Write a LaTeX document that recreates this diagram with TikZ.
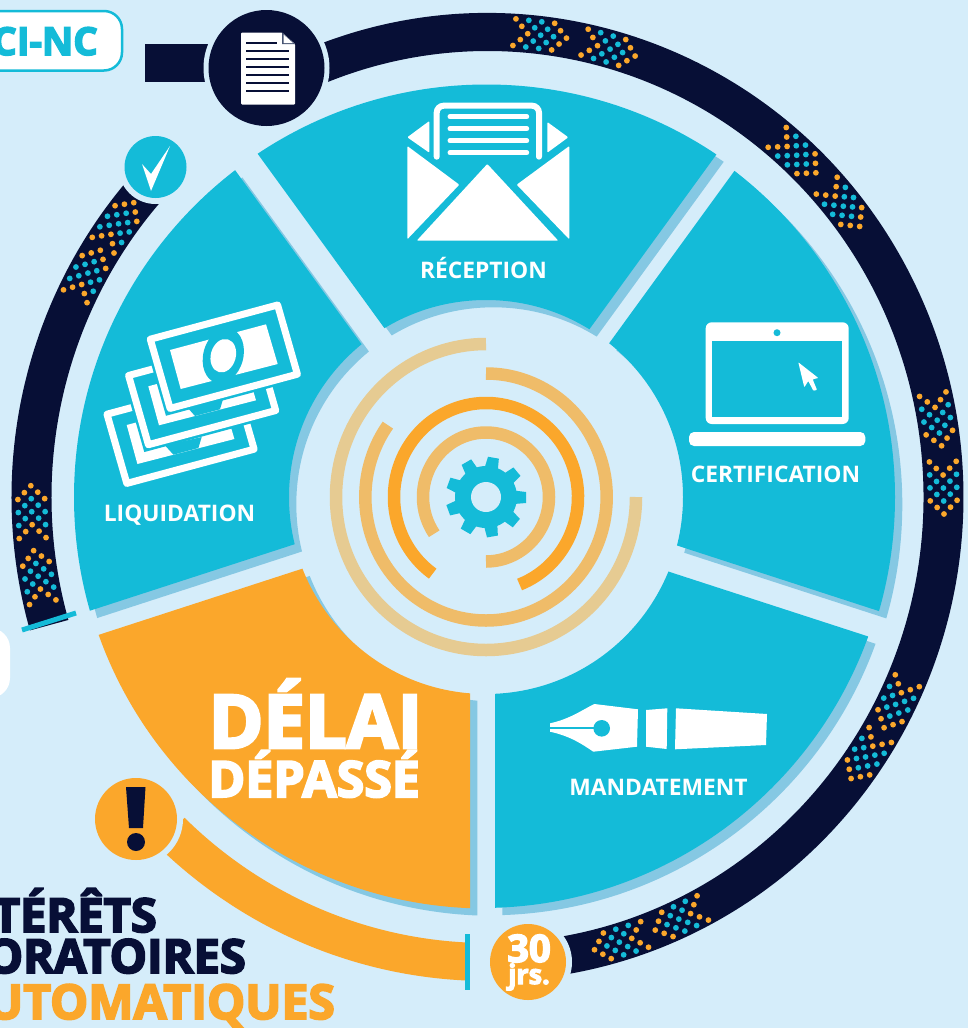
\documentclass[tikz,border=0pt]{standalone}
\usepackage{fontspec}
\setmainfont{Open Sans}
\newfontfamily\heavyfont[BoldFeatures={FakeBold=4}]{Open Sans}
\definecolor{pagebg}{HTML}{D5EDFA}
\definecolor{teal}{HTML}{14BBD8}
\definecolor{navy}{HTML}{070F36}
\definecolor{amber}{HTML}{FBA72B}
\definecolor{petalshade}{HTML}{85C8E3}
\definecolor{ringmid}{HTML}{EFBC69}
\definecolor{ringpale}{HTML}{E6CB92}
\usetikzlibrary{calc}

% one petal of the wheel: arc centre x, radius, colour, three clip corners
\newcommand{\petal}[6]{
  \begin{scope}
    \clip #4 -- #5 -- #6 -- cycle;
    \fill[#3, even odd rule] (#1,497) circle[radius=#2] (486,497) circle[radius=197];
  \end{scope}
}
% the five petals, colour of four and colour of the late one
\newcommand{\wheel}[2]{
  \petal{486.5}{412.5}{#1}{(487.3,469.7)}{(75.7,-96.6)}{(898.9,-96.6)}
  \petal{483.5}{411.5}{#1}{(503.2,489)}{(1168.9,705.3)}{(914.8,-77.3)}
  \petal{481.5}{411}{#1}{(495,515.2)}{(495,1100)}{(1160.7,731.5)}
  \petal{486}{412}{#1}{(466.4,488.4)}{(-199.3,704.7)}{(54.8,-77.9)}
  \petal{486.5}{411.5}{#2}{(470,514.2)}{(470,1100)}{(-195.7,730.5)}
}
% one piece of the outer band
\newcommand{\bandpiece}[3]{
  \fill[#3] ($(487.5,497)+(#1:476 and 484)$) arc[start angle=#1, end angle=#2, x radius=476, y radius=484]
    -- ($(487.5,497)+(#2:436 and 446)$) arc[start angle=#2, end angle=#1, x radius=436, y radius=446] -- cycle;
}
% one patch of dots on the band
\newcommand{\dotpatch}[1]{
  \foreach \j/\dotcol in {0/amber,1/teal,2/teal,3/amber}
    \foreach \i in {-2,...,2} {
      \pgfmathsetmacro{\along}{13*(\j-1.5)+6.7*(1.2-abs(\i))}
      \pgfmathsetmacro{\across}{6.7*\i}
      \pgfmathsetmacro{\dotx}{487.5+456*cos(#1)-\along*sin(#1)+\across*cos(#1)}
      \pgfmathsetmacro{\doty}{497+465*sin(#1)+\along*cos(#1)+\across*sin(#1)}
      \fill[\dotcol] (\dotx,\doty) circle[radius=2.9];
    }
}
% one bank note, by its top left corner
\newcommand{\banknote}[2]{
  \begin{scope}[shift={(#1,#2)}]
    \fill[teal, draw=teal, line width=5] (0,0) -- (134,-36) -- (155.7,40) -- (21.7,76) -- cycle;
    \draw[white, line width=7, line join=round] (4.3,2.5) -- (131.6,-31.7) -- (151.4,37.5) -- (24.1,71.7) -- cycle;
    \fill[white] (24,13.3) -- (120,-12.4) -- (131.7,27.3) -- (34.7,52.3) -- cycle;
  \end{scope}
}

\begin{document}
\begin{tikzpicture}[
    x=1pt, y=-1pt,
    steplabel/.style={font=\bfseries\fontsize{22.8}{22.8}\selectfont, text=white, inner sep=0, anchor=base},
    heavytext/.style={font=\heavyfont\bfseries\fontsize{47}{47}\selectfont, inner sep=0, anchor=base east},
    halo/.style={fill=pagebg},
    whiteshape/.style={fill=white},
    arcline/.style={line width=12.5}
]
\useasboundingbox (0,0) rectangle (968,1028);
\clip (0,0) rectangle (968,1028);
\fill[pagebg] (0,0) rectangle (968,1028);

% Wheel shadow
\begin{scope}[shift={(7.3,7.3)}]
  \wheel{petalshade}{petalshade}
\end{scope}

% Wheel
\wheel{teal}{amber}

% Outer band
\bandpiece{-117}{85}{navy}
\bandpiece{164}{225}{navy}
\fill[navy] (145,44) rectangle (215,82);
\bandpiece{92.5}{134}{amber}
\foreach \spot in {-83.5,-74.6,-47.5,-38.9,-9.7,-1.3,26.3,33.8,65,73,170,178,208.6,215.8} {\dotpatch{\spot}}

% Ticks
\draw[teal, line width=5] (22,630) -- (76,613);
\fill[teal] (465,934) rectangle (470,990);

% Circles on the band
\fill[halo] (266.5,68) circle[radius=63];
\fill[navy] (266.5,68) circle[radius=58];
\fill[halo] (155.5,167) circle[radius=37];
\fill[teal] (155.5,167) circle[radius=31];
\fill[halo] (136,819) circle[radius=47];
\fill[amber] (136,819) circle[radius=41];
\fill[halo] (528,962) circle[radius=44];
\fill[amber] (528,962) circle[radius=38];

% Document
\fill[whiteshape, rounded corners=1] (241,32.5) -- (282,32.5) -- (295,44) -- (295,104.5) -- (241,104.5) -- cycle;
\fill[navy!70!pagebg] (282,32.5) -- (295,44) -- (282,44) -- cycle;
\fill[white] (283.5,34.5) -- (293,43) -- (283.5,43) -- cycle;
\draw[navy, line width=1.7] (246,42.7) -- (277,42.7);
\foreach \liney in {50.7,58.7,66.7,74.7,82.7,90.7} {\draw[navy, line width=1.7] (246,\liney) -- (289,\liney);}

% Check
\fill[whiteshape] (142,164) -- (151,174) -- (170,146) -- (151,191) -- cycle;

% Exclamation
\fill[navy] (126,787) -- (145.5,787) -- (143,828) -- (129,828) -- cycle;
\fill[navy] (136,842) circle[radius=9];

% Envelope
\fill[whiteshape, rounded corners=1] (487.3,164) -- (558.3,240.7) -- (416.7,240.7) -- cycle;
\fill[whiteshape, rounded corners=1] (407.3,146) -- (459.3,184.7) -- (407.3,239.3) -- cycle;
\fill[whiteshape, rounded corners=1] (569.3,146) -- (516.7,184.7) -- (569.3,239.3) -- cycle;
\fill[whiteshape, rounded corners=1] (429.3,121) -- (407.3,137.3) -- (429.3,152.7) -- cycle;
\fill[whiteshape, rounded corners=1] (547.3,122) -- (568.3,137.3) -- (547.3,152.7) -- cycle;
\draw[white, line width=6, line cap=round, rounded corners=7] (436.7,156.7) -- (436.7,105.7) -- (539,105.7) -- (539,156.7);
\foreach \liney in {116.7,128.7,140.7,152.7} {\draw[white, line width=5, line cap=round] (450,\liney) -- (526.7,\liney);}

% Laptop
\fill[whiteshape, rounded corners=6] (705.7,322.3) rectangle (848.7,424);
\fill[teal] (712.3,340.7) rectangle (842,417.3);
\fill[teal] (777,332.7) circle[radius=3.5];
\fill[whiteshape, rounded corners=5] (689,432) rectangle (865.3,446);
\fill[whiteshape, rounded corners=0.7] (798.3,362.3) -- (804.3,387.3) -- (808.3,381) -- (813.3,390.7) -- (817,390) -- (812.7,379.3) -- (818.3,378) -- cycle;

% Pen
\fill[whiteshape] (550,723.3) .. controls (570,719) and (582,710) .. (594.3,704) -- (638,709.3) -- (637,746.7) -- (593.3,751.7) .. controls (582,744) and (570,736) .. (550,731.7) -- cycle;
\draw[teal, line width=2] (548,727.7) -- (596,727.7);
\fill[teal] (601.7,728.3) circle[radius=8.3];
\fill[whiteshape] (646,710) -- (667.3,708.3) -- (666.7,749) -- (646,746.7) -- cycle;
\fill[whiteshape] (676,708.3) -- (767,714) -- (766,745) -- (675,749.3) -- cycle;

% Bank notes
\banknote{102.7}{411.7}
\fill[teal] (165,445.4) -- (173.4,454.7) -- (198.4,448) -- (201.7,437) -- cycle;
\banknote{124.3}{373}
\fill[teal] (186.7,406.7) -- (195,416) -- (220,409.3) -- (223.3,398.3) -- cycle;
\banknote{146}{336.7}
\fill[teal, rotate around={-15:(223.3,355.7)}] (223.3,355.7) ellipse[x radius=20, y radius=28];
\fill[whiteshape, rotate around={-15:(223.3,355.7)}] (223.3,355.7) ellipse[x radius=12.5, y radius=17];

% Arcs in the hub
\draw[arcline, ringpale] ($(486,497)+(0:150 and 153)$) arc[start angle=0, end angle=270, x radius=150, y radius=153];
\draw[arcline, ringmid] ($(486,497)+(-90:120.7 and 123.5)$) arc[start angle=-90, end angle=215.6, x radius=120.7, y radius=123.5];
\draw[arcline, amber] ($(486,497)+(68.6:92 and 94)$) arc[start angle=68.6, end angle=-234.6, x radius=92, y radius=94];
\draw[arcline, ringmid] ($(486,497)+(90:63 and 64.5)$) arc[start angle=90, end angle=-214.7, x radius=63, y radius=64.5];

% Gear
\fill[teal] (486,497) circle[radius=31];
\foreach \ang in {0,40,...,320} {
  \fill[teal, rotate around={-\ang:(486,497)}] (514,490.5) -- (526,492) -- (526,503) -- (514,504) -- cycle;
}
\fill[pagebg] (486,497) circle[radius=15];

% White boxes
\draw[teal, fill=white, line width=2.5, rounded corners=18] (-40,11) rectangle (122,70.5);
\fill[white, rounded corners=20] (-40,628) rectangle (10,698);

% Text
\node[font=\heavyfont\bfseries\fontsize{38.5}{38.5}\selectfont, text=teal, inner sep=0, anchor=base east] (cinc) at (98,55) {CI-NC};
\node[steplabel] (reception) at (483.5,278) {RÉCEPTION};
\node[steplabel] (certification) at (775.5,482) {CERTIFICATION};
\node[steplabel] (liquidation) at (179.5,521) {LIQUIDATION};
\node[steplabel] (mandatement) at (658.5,795) {MANDATEMENT};
\node[heavytext, text=white, font=\heavyfont\bfseries\fontsize{74}{74}\selectfont] (delai) at (422.5,748) {DÉLAI};
\node[heavytext, text=white, font=\heavyfont\bfseries\fontsize{50}{50}\selectfont] (depasse) at (420,797) {DÉPASSÉ};
\node[heavytext, text=white, font=\heavyfont\bfseries\fontsize{38}{38}\selectfont, anchor=base] (trente) at (529,962) {30};
\node[heavytext, text=white, font=\heavyfont\bfseries\fontsize{27}{27}\selectfont, anchor=base] (jours) at (529,984) {jrs.};
\node[heavytext, text=navy] (interets) at (157,932) {TÉRÊTS};
\node[heavytext, text=navy] (moratoires) at (246,973) {ORATOIRES};
\node[heavytext, text=amber, font=\heavyfont\bfseries\fontsize{48}{48}\selectfont] (automatiques) at (335,1019) {UTOMATIQUES};
\end{tikzpicture}
\end{document}
